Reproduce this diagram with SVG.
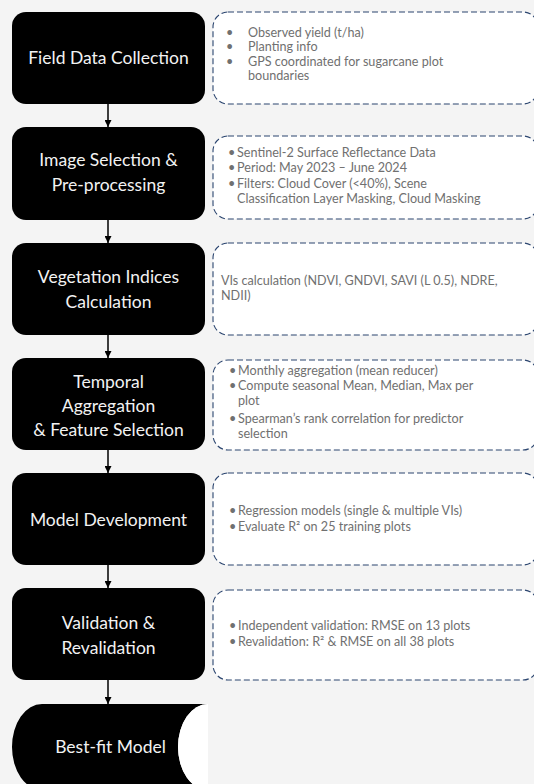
<svg xmlns="http://www.w3.org/2000/svg" width="534" height="784" viewBox="0 0 534 784">
<defs>
<marker id="ah" viewBox="0 0 8 8" refX="8" refY="4" markerWidth="7" markerHeight="7" markerUnits="userSpaceOnUse" orient="auto">
<path d="M0,0 L8,4 L0,8 Z" fill="#000"/>
</marker>
<style>
.step{fill:#000;}
.title{font-family:Lato,"Liberation Sans",sans-serif;font-size:17.5px;fill:#f2f2f2;text-anchor:middle;}
.note{fill:#fff;stroke:#2b456f;stroke-width:1.1;stroke-dasharray:6 3;}
.txt{font-family:Lato,"Liberation Sans",sans-serif;font-size:12.6px;fill:#707070;}
.conn{stroke:#000;stroke-width:1.5;fill:none;marker-end:url(#ah);}
</style>
</defs>
<rect width="534" height="784" fill="#f4f4f4"/>

<g id="connectors">
<line class="conn" x1="108" y1="104" x2="108" y2="127"/>
<line class="conn" x1="108" y1="220" x2="108" y2="243"/>
<line class="conn" x1="108" y1="335" x2="108" y2="358"/>
<line class="conn" x1="108" y1="450" x2="108" y2="473"/>
<line class="conn" x1="108" y1="565" x2="108" y2="588"/>
<line class="conn" x1="108" y1="680" x2="108" y2="704"/>
</g>

<g id="step1">
<rect class="step" x="12" y="12" width="193" height="92" rx="14"/>
<text class="title" x="108.5" y="64">Field Data Collection</text>
</g>
<g id="note1">
<rect class="note" x="213" y="12" width="325" height="92" rx="15"/>
<text class="txt"><tspan x="226" y="36.5">•</tspan><tspan x="248" y="36.5">Observed yield (t/ha)</tspan>
<tspan x="226" y="51">•</tspan><tspan x="248" y="51">Planting info</tspan>
<tspan x="226" y="65.5">•</tspan><tspan x="248" y="65.5">GPS coordinated for sugarcane plot</tspan>
<tspan x="248" y="80">boundaries</tspan></text>
</g>

<g id="step2">
<rect class="step" x="12" y="127" width="193" height="93" rx="14"/>
<text class="title"><tspan x="108.5" y="166">Image Selection &amp;</tspan><tspan x="108.5" y="191">Pre-processing</tspan></text>
</g>
<g id="note2">
<rect class="note" x="213" y="136" width="325" height="83" rx="15"/>
<text class="txt"><tspan x="228" y="156.5">•</tspan><tspan x="237" y="156.5">Sentinel-2 Surface Reflectance Data</tspan>
<tspan x="228" y="172">•</tspan><tspan x="237" y="172">Period: May 2023 – June 2024</tspan>
<tspan x="228" y="187.5">•</tspan><tspan x="237" y="187.5">Filters: Cloud Cover (&lt;40%), Scene</tspan>
<tspan x="237" y="203">Classification Layer Masking, Cloud Masking</tspan></text>
</g>

<g id="step3">
<rect class="step" x="12" y="243" width="193" height="92" rx="14"/>
<text class="title"><tspan x="108.5" y="283">Vegetation Indices</tspan><tspan x="108.5" y="308">Calculation</tspan></text>
</g>
<g id="note3">
<rect class="note" x="213" y="243" width="325" height="92" rx="15"/>
<text class="txt"><tspan x="221" y="284.5">VIs calculation (NDVI, GNDVI, SAVI (L 0.5), NDRE,</tspan>
<tspan x="221" y="299.5">NDII)</tspan></text>
</g>

<g id="step4">
<rect class="step" x="12" y="358" width="193" height="92" rx="14"/>
<text class="title"><tspan x="108.5" y="388">Temporal</tspan><tspan x="108.5" y="412">Aggregation</tspan><tspan x="108.5" y="436">&amp; Feature Selection</tspan></text>
</g>
<g id="note4">
<rect class="note" x="213" y="360" width="325" height="90" rx="15"/>
<text class="txt"><tspan x="229" y="375">•</tspan><tspan x="238" y="375">Monthly aggregation (mean reducer)</tspan>
<tspan x="229" y="390">•</tspan><tspan x="238" y="390">Compute seasonal Mean, Median, Max per</tspan>
<tspan x="238" y="405">plot</tspan>
<tspan x="229" y="423">•</tspan><tspan x="238" y="423">Spearman’s rank correlation for predictor</tspan>
<tspan x="238" y="438">selection</tspan></text>
</g>

<g id="step5">
<rect class="step" x="12" y="473" width="193" height="92" rx="14"/>
<text class="title" x="108.5" y="526">Model Development</text>
</g>
<g id="note5">
<rect class="note" x="213" y="473" width="325" height="92" rx="15"/>
<text class="txt"><tspan x="229" y="515">•</tspan><tspan x="238" y="515">Regression models (single &amp; multiple VIs)</tspan>
<tspan x="229" y="531">•</tspan><tspan x="238" y="531">Evaluate R² on 25 training plots</tspan></text>
</g>

<g id="step6">
<rect class="step" x="12" y="588" width="193" height="92" rx="14"/>
<text class="title"><tspan x="108.5" y="629">Validation &amp;</tspan><tspan x="108.5" y="654">Revalidation</tspan></text>
</g>
<g id="note6">
<rect class="note" x="213" y="590" width="325" height="90" rx="15"/>
<text class="txt"><tspan x="229" y="629.5">•</tspan><tspan x="238" y="629.5">Independent validation: RMSE on 13 plots</tspan>
<tspan x="229" y="645.5">•</tspan><tspan x="238" y="645.5">Revalidation: R² &amp; RMSE on all 38 plots</tspan></text>
</g>

<g id="step7">
<path class="step" d="M42,704 L208,704 A30,43 0 0 0 208,790 L42,790 A30,43 0 0 1 42,704 Z"/>
<path d="M208,704 A30,43 0 0 0 208,790 Z" fill="#fff"/>
<text class="title" x="110.5" y="753">Best-fit Model</text>
</g>
</svg>
